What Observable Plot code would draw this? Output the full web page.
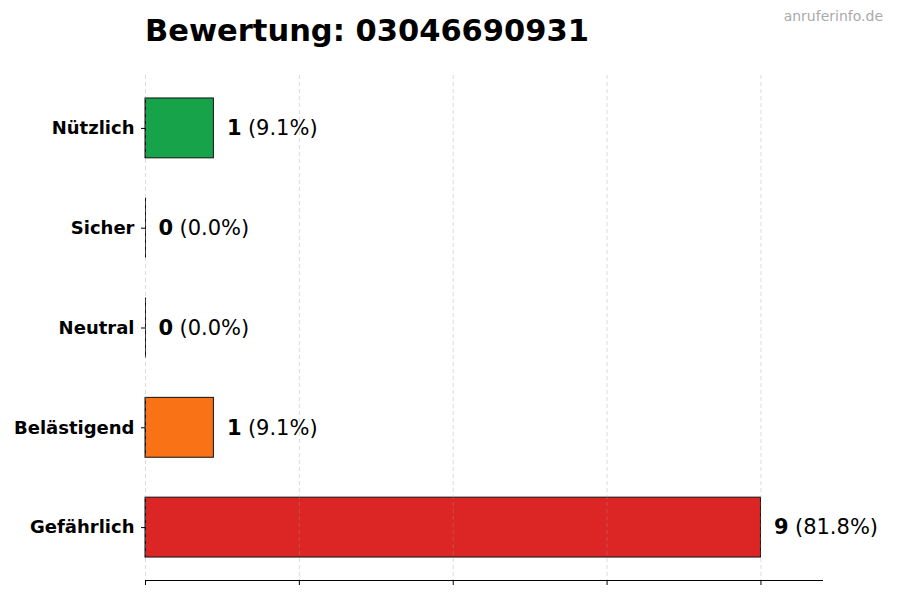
<!DOCTYPE html>
<html>
<head>
<meta charset="utf-8">
<script src="https://cdn.jsdelivr.net/npm/d3@7"></script>
<script src="https://cdn.jsdelivr.net/npm/@observablehq/plot@0.6"></script>
<style>
  html, body { margin: 0; padding: 0; background: #fff; }
  #wrap { position: relative; width: 900px; height: 600px; font-family: "DejaVu Sans", sans-serif; }
  #title { position: absolute; left: 145px; top: 13px; font-size: 30.5px; font-weight: bold; color: #000; white-space: nowrap; }
  #mark { position: absolute; right: 17px; top: 8px; font-size: 14px; color: #aaaaaa; }
  #chart { position: absolute; left: 0; top: 0; }
</style>
</head>
<body>
<div id="wrap">
  <div id="chart"></div>
  <div id="title">Bewertung: 03046690931</div>
  <div id="mark">anruferinfo.de</div>
</div>
<script>
const categories = ["Nützlich", "Sicher", "Neutral", "Belästigend", "Gefährlich"];
const counts = [1, 0, 0, 1, 9];
const percents = ["9.1%", "0.0%", "0.0%", "9.1%", "81.8%"];
const colors = ["#16a34a", "#9ca3af", "#6b7280", "#f97316", "#dc2626"];
const xTicks = [0, 2.25, 4.5, 6.75, 9];
const xMax = 9.9;

const data = categories.map((c, i) => ({cat: c, n: counts[i], pct: percents[i], color: colors[i]}));

const chart = Plot.plot({
  width: 900,
  height: 600,
  marginTop: 75,
  marginBottom: 20,
  marginLeft: 145,
  marginRight: 78,
  insetTop: 3,
  insetBottom: 3,
  style: {fontFamily: "DejaVu Sans, sans-serif", background: "transparent"},
  x: {domain: [0, xMax]},
  y: {domain: categories, paddingInner: 0.4, paddingOuter: 0.2, round: false},
  marks: [
    Plot.barX(data, {x: "n", y: "cat", fill: "color", stroke: "#111", strokeWidth: 1}),
    Plot.tickX(data, {x: 0, y: "cat", stroke: "#111", strokeWidth: 1}),
    Plot.gridX({ticks: xTicks, stroke: "#999", strokeOpacity: 0.45, strokeDasharray: "4,3", strokeWidth: 0.8}),
    Plot.frame({anchor: "bottom", stroke: "#000", strokeWidth: 1}),
    Plot.axisX({ticks: xTicks, tickFormat: () => "", tickSize: 5, stroke: "#000", label: null}),
    Plot.axisY({tickSize: 4, tickPadding: 7, fontSize: 18, fontWeight: "bold", fill: "#000", label: null}),
    Plot.text(data, {x: "n", y: "cat", text: d => String(d.n), textAnchor: "start", dx: 13, fontSize: 21, fontWeight: "bold", fill: "#000"}),
    Plot.text(data, {x: "n", y: "cat", text: d => "(" + d.pct + ")", textAnchor: "start", dx: 34, fontSize: 21, fill: "#000"})
  ]
});
document.getElementById("chart").appendChild(chart);
</script>
</body>
</html>
